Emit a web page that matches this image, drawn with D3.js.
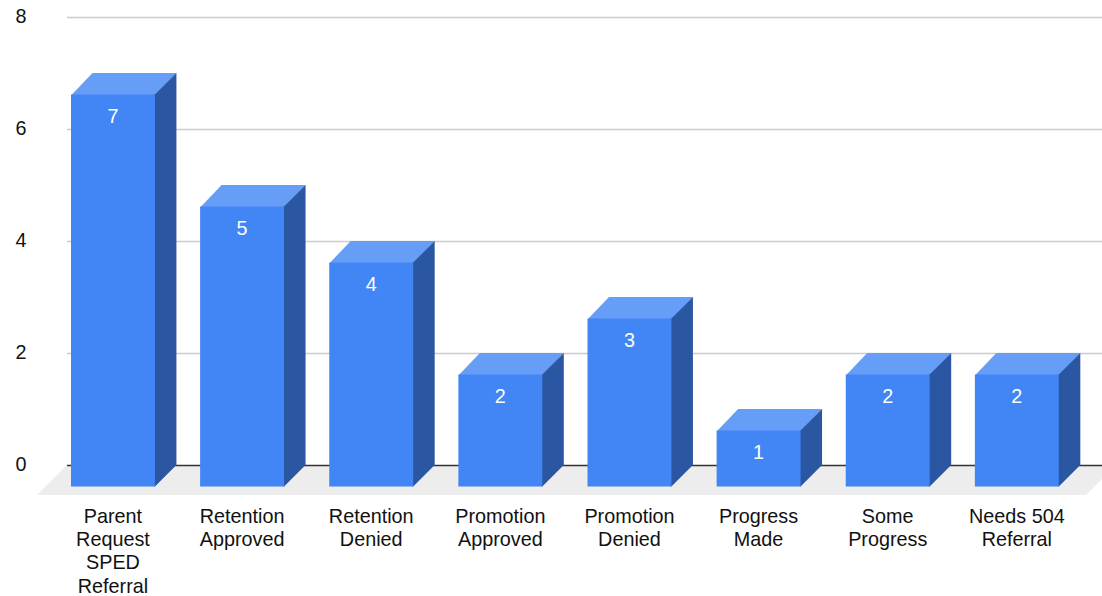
<!DOCTYPE html>
<html>
<head>
<meta charset="utf-8">
<script src="https://cdn.jsdelivr.net/npm/d3@7"></script>
<style>
  html, body { margin: 0; padding: 0; background: #fff; }
  svg { display: block; }
  text { font-family: "Liberation Sans", Arial, sans-serif; }
</style>
</head>
<body>
<svg class="svg" width="1102" height="596"></svg>
<script>
const categories = [
  ['Parent', 'Request', 'SPED', 'Referral'],
  ['Retention', 'Approved'],
  ['Retention', 'Denied'],
  ['Promotion', 'Approved'],
  ['Promotion', 'Denied'],
  ['Progress', 'Made'],
  ['Some', 'Progress'],
  ['Needs 504', 'Referral']
];
const values = [7, 5, 4, 2, 3, 1, 2, 2];
const yTicks = [0, 2, 4, 6, 8];

const names = categories.map(c => c.join(' '));
const depthX = 21.5;
const depthY = 21.5;
const fontSize = '19.8px';

const svg = d3.select('.svg');
const y = d3.scaleLinear().domain([0, 8]).range([465, 17]);
const x = d3.scaleBand().domain(names).range([48.4, 1081.4])
  .paddingInner(0.35).paddingOuter(0.175);

// floor
const floorLeft = 67;
const floorRight = 1116;
const floorDepth = 30;
svg.append('polygon')
  .attr('points', [
    [floorLeft, y(0)], [floorRight, y(0)],
    [floorRight - floorDepth, y(0) + floorDepth], [floorLeft - floorDepth, y(0) + floorDepth]
  ].join(' '))
  .style('fill', '#ededed');

// gridlines + y labels
const axis = svg.append('g')
  .attr('transform', 'translate(67,0)')
  .call(d3.axisLeft(y).tickValues(yTicks).tickSize(-1035).tickPadding(35).tickFormat(d3.format('d')));
axis.select('.domain').remove();
axis.selectAll('.tick line')
  .style('stroke', d => d === 0 ? '#333333' : '#cccccc')
  .style('stroke-width', 1.4);
axis.selectAll('.tick text')
  .attr('text-anchor', 'middle')
  .attr('x', -46)
  .attr('dy', '0.3em')
  .style('font-size', fontSize)
  .style('fill', '#111111');

// bars
const bars = svg.selectAll('.bar').data(values).enter().append('g').attr('class', 'bar');

// top face, runs 1px under the front so no gridline shows in the seam
bars.append('polygon')
  .attr('points', (d, i) => {
    const l = x(names[i]);
    const r = l + x.bandwidth();
    const t = y(d) + depthY;
    return [[l, t + 1], [r, t + 1], [r + depthX, t - depthY], [l + depthX, t - depthY]].join(' ');
  })
  .style('fill', '#669df6');

// side face, same 1px overlap
bars.append('polygon')
  .attr('points', (d, i) => {
    const r = x(names[i]) + x.bandwidth();
    const t = y(d) + depthY;
    const b = y(0) + depthY;
    return [[r - 1, t], [r, t], [r + depthX, t - depthY], [r + depthX, b - depthY], [r, b], [r - 1, b]].join(' ');
  })
  .style('fill', '#2a56a2');

bars.append('rect') // front face
  .attr('x', (d, i) => x(names[i]))
  .attr('y', d => y(d) + depthY)
  .attr('width', x.bandwidth())
  .attr('height', d => y(0) - y(d))
  .style('fill', '#4285f4');

bars.append('text')
  .attr('x', (d, i) => x(names[i]) + x.bandwidth() / 2)
  .attr('y', d => y(d) + depthY + 28)
  .attr('text-anchor', 'middle')
  .style('font-size', fontSize)
  .style('fill', '#ffffff')
  .text(d => d);

// category labels
const labels = svg.selectAll('.cat').data(categories).enter().append('text')
  .attr('class', 'cat')
  .attr('text-anchor', 'middle')
  .style('font-size', fontSize)
  .style('fill', '#111111');
labels.selectAll('tspan').data((d, i) => d.map(t => ({ t, name: names[i] }))).enter().append('tspan')
  .attr('x', d => x(d.name) + x.bandwidth() / 2)
  .attr('y', (d, j) => 522.5 + j * 23.4)
  .text(d => d.t);
</script>
</body>
</html>
